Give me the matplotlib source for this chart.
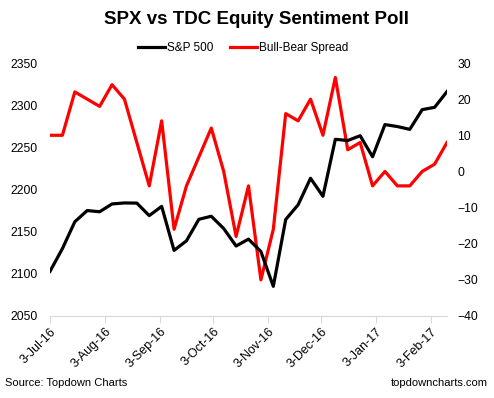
import matplotlib
matplotlib.use("Agg")
import matplotlib.pyplot as plt
import matplotlib.dates as mdates
import pandas as pd

plt.rcParams['font.family'] = ['Liberation Sans', 'DejaVu Sans']

dates = pd.date_range("2016-07-03", periods=33, freq="7D")
spx = [2102.95, 2129.90, 2161.74, 2175.03, 2173.60, 2182.87, 2184.05, 2183.87,
       2169.04, 2179.98, 2127.81, 2139.16, 2164.69, 2168.27, 2153.74, 2132.98,
       2141.16, 2126.41, 2085.18, 2164.45, 2181.90, 2213.35, 2191.95, 2259.53,
       2258.07, 2263.79, 2238.83, 2276.98, 2274.64, 2271.31, 2294.69, 2297.42,
       2316.10]
spread = [10, 10, 22, 20, 18, 24, 20, 8, -4, 14, -16, -4, 4, 12, 0, -18,
          -4, -30, -16, 16, 14, 20, 10, 26, 6, 8, -4, 0, -4, -4, 0, 2, 8]
tick_dates = pd.to_datetime(["2016-07-03", "2016-08-03", "2016-09-03", "2016-10-03",
                             "2016-11-03", "2016-12-03", "2017-01-03", "2017-02-03"])
tick_labels = ["3-Jul-16", "3-Aug-16", "3-Sep-16", "3-Oct-16", "3-Nov-16",
               "3-Dec-16", "3-Jan-17", "3-Feb-17"]

fig = plt.figure(figsize=(4.94, 3.98), dpi=100)
ax = fig.add_axes([50/494, 82/398, 397/494, 253/398])
ax2 = ax.twinx()

l1, = ax.plot(dates, spx, color="black", lw=2.3, label="S&P 500", zorder=3)
l2, = ax2.plot(dates, spread, color="#ff0000", lw=2.3, label="Bull-Bear Spread")
ax.set_zorder(ax2.get_zorder() + 1)
ax.patch.set_visible(False)

ax.set_ylim(2050, 2350)
ax.set_yticks(range(2050, 2351, 50))
ax2.set_ylim(-40, 30)
ax2.set_yticks(range(-40, 31, 10))
ax.set_xlim(dates[0], dates[-1])
ax.set_xticks(tick_dates)
ax.set_xticklabels(tick_labels, rotation=45, ha="right", rotation_mode="anchor")

for a in (ax, ax2):
    for s in ("top", "left", "right"):
        a.spines[s].set_visible(False)
    a.spines["bottom"].set_color("#d9d9d9")
    a.tick_params(axis="y", length=0, labelsize=8.7, colors="#000000")
ax.tick_params(axis="y", pad=9)
ax2.tick_params(axis="y", pad=7.5)
ax2.spines["bottom"].set_visible(False)
ax.tick_params(axis="x", length=5, color="#d9d9d9", labelsize=9, pad=2)

fig.text(256/494, 1 - 20/398, "SPX vs TDC Equity Sentiment Poll", ha="center", va="center",
         fontsize=13.5, fontweight="bold")
fig.legend(handles=[l1, l2], loc="center", bbox_to_anchor=(243/494, 1 - 48/398),
           ncol=2, frameon=False, fontsize=8.5, handlelength=2.3, handletextpad=0.15,
           columnspacing=1.4)
fig.text(5/494, 1 - 383/398, "Source: Topdown Charts", ha="left", va="center", fontsize=8)
fig.text(488/494, 1 - 383/398, "topdowncharts.com", ha="right", va="center", fontsize=8)

fig.savefig("out.png", dpi=100)
